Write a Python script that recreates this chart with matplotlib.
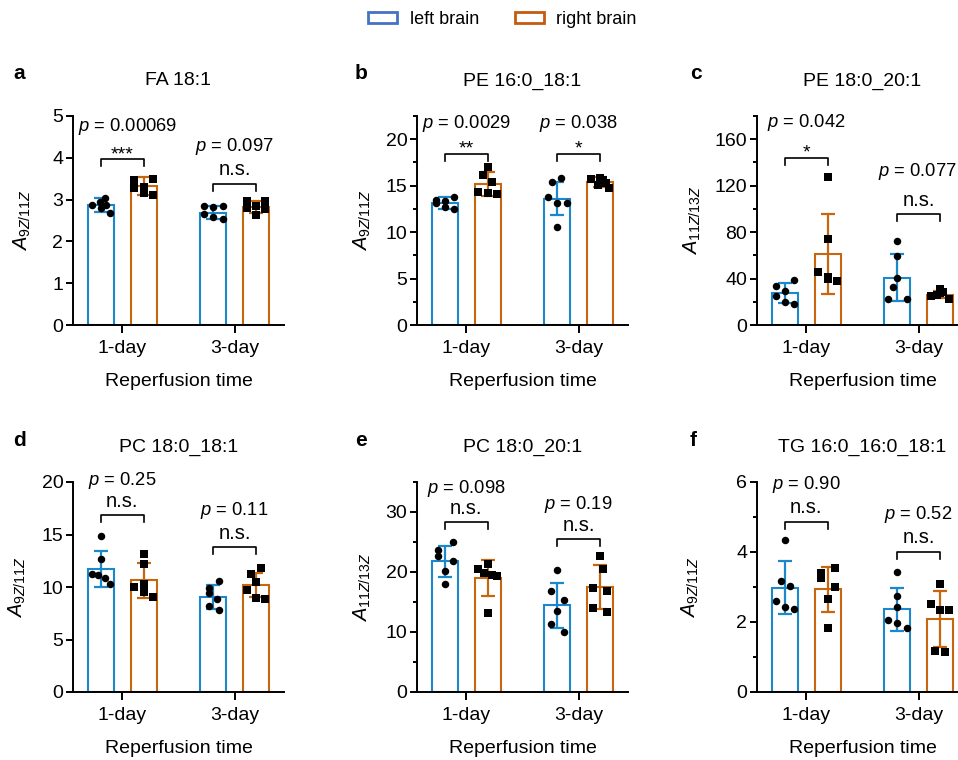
import numpy as np
import matplotlib
matplotlib.use('Agg')
import matplotlib.pyplot as plt
from matplotlib.patches import Patch
from matplotlib.ticker import MultipleLocator, NullLocator

plt.rcParams['font.family'] = ['Liberation Sans', 'DejaVu Sans']
plt.rcParams['mathtext.fontset'] = 'custom'
plt.rcParams['mathtext.rm'] = 'Liberation Sans'
plt.rcParams['mathtext.it'] = 'Liberation Sans:italic'
plt.rcParams['mathtext.bf'] = 'Liberation Sans:bold'

# ---------------- data ----------------
groups = ['1-day', '3-day']
series = ['left brain', 'right brain']
titles = ['FA 18:1', 'PE 16:0_18:1', 'PE 18:0_20:1',
          'PC 18:0_18:1', 'PC 18:0_20:1', 'TG 16:0_16:0_18:1']
letters = ['a', 'b', 'c', 'd', 'e', 'f']
ylabels = [r'$A_{9Z/11Z}$', r'$A_{9Z/11Z}$', r'$A_{11Z/13Z}$',
           r'$A_{9Z/11Z}$', r'$A_{11Z/13Z}$', r'$A_{9Z/11Z}$']

# bar means and SDs per panel: [1-day, 3-day]
mean_left = [[2.87, 2.69], [13.15, 13.6], [27.4, 40.9],
             [11.72, 9.08], [21.8, 14.5], [2.98, 2.36]]
sd_left = [[0.17, 0.15], [0.67, 1.8], [8.5, 20.2],
           [1.73, 1.15], [2.57, 3.75], [0.75, 0.62]]
mean_right = [[3.32, 2.83], [15.14, 15.39], [61.0, 26.0],
              [10.62, 10.2], [19.05, 17.5], [2.93, 2.09]]
sd_right = [[0.21, 0.145], [1.3, 0.54], [34.7, 2.9],
            [1.67, 1.15], [3.0, 3.6], [0.63, 0.79]]

# individual animals
pts_left_1d = [[2.88, 2.95, 3.05, 2.87, 2.68, 2.80],
               [13.5, 13.75, 13.35, 13.1, 12.65, 12.5],
               [33.7, 38.9, 29.0, 25.4, 19.8, 18.2],
               [14.9, 12.7, 11.2, 11.1, 10.9, 10.3],
               [25.0, 23.7, 22.6, 21.8, 20.1, 18.0],
               [4.33, 3.18, 3.04, 2.60, 2.42, 2.37]]
pts_right_1d = [[3.48, 3.50, 3.28, 3.30, 3.15, 3.12],
                [17.05, 16.2, 15.4, 14.35, 14.2, 14.15],
                [127.4, 74.1, 45.3, 41.0, 38.0, 40.0],
                [13.15, 12.2, 10.0, 10.3, 9.5, 9.08],
                [20.56, 21.4, 19.8, 19.55, 19.4, 13.1],
                [3.55, 3.39, 3.25, 3.00, 2.66, 1.84]]
pts_left_3d = [[2.84, 2.83, 2.84, 2.65, 2.59, 2.53],
               [15.8, 15.4, 13.8, 13.1, 13.1, 10.6],
               [72.6, 59.1, 40.9, 32.3, 22.2, 22.2],
               [10.6, 9.9, 9.4, 8.9, 8.15, 7.85],
               [20.3, 16.87, 15.36, 13.5, 11.3, 10.05],
               [3.42, 2.74, 2.44, 2.05, 1.96, 1.84]]
pts_right_3d = [[2.97, 2.96, 2.85, 2.80, 2.62, 2.78],
                [15.7, 15.85, 15.6, 15.3, 15.1, 14.8],
                [25.4, 30.8, 27.5, 22.5, 28.0, 26.0],
                [11.85, 11.25, 10.5, 9.75, 9.0, 8.82],
                [22.6, 20.5, 17.3, 16.9, 14.0, 13.4],
                [3.08, 2.51, 2.34, 2.34, 1.17, 1.13]]

# horizontal scatter of points (fraction of spread)
jit_left_1d = [[-1, -0.1, 0.4, 0.5, 1, 0], [-1, 1, 0, -1, 0, 1],
               [-1, 1, 0, -1, 0, 1], [0, 0, -1, -0.3, 0.4, 1],
               [0.8, -0.8, -0.8, 0.8, 0, 0], [0, -0.4, 0.5, -1, 0, 1]]
jit_right_1d = [[-1, 1, -1, 0, 0, 1], [0, -0.5, 0.5, -1, 0, 1],
                [0, 0, -1, 0, 1, 0], [0, 0, -1, 0, 0, 1],
                [-1, 0, -0.4, 0.5, 1, 0], [0.8, -0.7, -0.7, 0.8, 0, 0]]
jit_left_3d = [[-1, 0, 1, -1, 0, 1], [0.35, -0.6, -1, 0, 1, 0],
               [0, 0, 0, -0.5, -1, 1], [0.6, -0.5, -0.5, 0.4, -0.5, 0.6],
               [0, -0.7, 0.7, 0, -0.7, 0.7], [0, 0, 0, -1, 0, 1]]
jit_right_3d = [[-1, 1, 0, -1, 0, 1], [-1, 0, 0.3, 0.7, -0.2, 1],
                [-1, 0, 0, 1, 0.3, -0.3], [0.5, -0.5, 0, -1, 0, 1],
                [0, 0.3, -0.7, 0.8, -0.7, 0.8], [0, -1, 0, 1, -0.5, 0.5]]

# statistics annotations
p_1d = ['0.00069', '0.0029', '0.042', '0.25', '0.098', '0.90']
p_3d = ['0.097', '0.038', '0.077', '0.11', '0.19', '0.52']
sig_1d = ['***', '**', '*', 'n.s.', 'n.s.', 'n.s.']
sig_3d = ['n.s.', '*', 'n.s.', 'n.s.', 'n.s.', 'n.s.']
bracket_y_1d = [3.96, 18.38, 144.1, 16.82, 28.32, 4.87]
bracket_y_3d = [3.38, 18.38, 95.7, 13.79, 25.53, 4.01]
p_y_1d = [4.63, 21.26, 170.9, 19.75, 33.13, 5.81]
p_y_3d = [4.16, 21.26, 128.3, 16.82, 30.45, 4.94]
p_dx_1d = [0.05, 0.0, 0.0, 0.0, 0.0, 0.0]
p_dx_3d = [0.0, 0.0, -0.01, 0.0, 0.0, 0.0]

# axis ranges
ymax = [5, 22.5, 180, 20, 35, 6]
ymajor = [1, 5, 40, 5, 10, 2]
yminor = [None, 2.5, 20, None, 5, 1]

# ---------------- style ----------------
BLUE = '#1A88C9'
ORANGE = '#C8660F'
LEG_BLUE = '#4472C4'
LEG_ORANGE = '#C55A11'

W, H = 958, 760
fig = plt.figure(figsize=(W / 100, H / 100), dpi=100)

ax_left_px = [73, 417, 757]
ax_w_px = 211
row_bottom_px = [325, 692]
row_top_px = [116, 482]
ylabel_x = [-0.19, -0.209, -0.256, -0.213, -0.209, -0.265]
letter_x_px = [13, 355, 690]
letter_base_px = [79, 446]

off = 0.19
bw = 0.23
jit_scale = 0.083

for i in range(6):
    row, col = divmod(i, 3)
    hpx = row_bottom_px[row] - row_top_px[row]
    ax = fig.add_axes([ax_left_px[col] / W, (H - row_bottom_px[row]) / H,
                       ax_w_px / W, hpx / H])
    x = np.arange(len(groups))
    ax.bar(x - off, mean_left[i], width=bw, facecolor='white',
           edgecolor=BLUE, linewidth=1.5, zorder=2)
    ax.bar(x + off, mean_right[i], width=bw, facecolor='white',
           edgecolor=ORANGE, linewidth=1.5, zorder=2)
    ax.errorbar(x - off, mean_left[i], yerr=sd_left[i], fmt='none',
                ecolor=BLUE, elinewidth=1.6, capsize=4.8, capthick=1.6, zorder=3)
    ax.errorbar(x + off, mean_right[i], yerr=sd_right[i], fmt='none',
                ecolor=ORANGE, elinewidth=1.6, capsize=4.8, capthick=1.6, zorder=3)

    for g, (pl, jl, pr, jr) in enumerate([
            (pts_left_1d[i], jit_left_1d[i], pts_right_1d[i], jit_right_1d[i]),
            (pts_left_3d[i], jit_left_3d[i], pts_right_3d[i], jit_right_3d[i])]):
        ax.plot(g - off + np.array(jl) * jit_scale, pl, 'o', color='black',
                markersize=5.4, markeredgewidth=0, zorder=4, clip_on=False)
        ax.plot(g + off + np.array(jr) * jit_scale, pr, 's', color='black',
                markersize=5.6, markeredgewidth=0, zorder=4, clip_on=False)

    ax.set_xlim(-0.44, 1.44)
    ax.set_ylim(0, ymax[i])
    unit = ymax[i] / hpx  # data units per pixel
    leg = 7 * unit

    for g, (by, py, sig, pv, pdx) in enumerate([
            (bracket_y_1d[i], p_y_1d[i], sig_1d[i], p_1d[i], p_dx_1d[i]),
            (bracket_y_3d[i], p_y_3d[i], sig_3d[i], p_3d[i], p_dx_3d[i])]):
        ax.plot([g - off, g - off, g + off, g + off], [by - leg, by, by, by - leg],
                color='black', linewidth=1.2, zorder=5, clip_on=False)
        if sig == 'n.s.':
            ax.text(g, by + 8.3 * unit, sig, ha='center', va='baseline',
                    fontsize=14.5, clip_on=False)
        else:
            ax.text(g, by + 0.5 * unit, sig, ha='center', va='baseline',
                    fontsize=14, clip_on=False)
        ax.text(g + pdx, py, r'$p$ = ' + pv, ha='center', va='baseline',
                fontsize=13.2, clip_on=False)

    ax.set_xticks(x)
    ax.set_xticklabels(groups)
    ax.yaxis.set_major_locator(MultipleLocator(ymajor[i]))
    if yminor[i] is not None:
        ax.yaxis.set_minor_locator(MultipleLocator(yminor[i]))
    else:
        ax.yaxis.set_minor_locator(NullLocator())
    ax.xaxis.set_minor_locator(NullLocator())

    for s in ['top', 'right']:
        ax.spines[s].set_visible(False)
    for s in ['left', 'bottom']:
        ax.spines[s].set_linewidth(1.4)

    ax.tick_params(axis='y', which='major', length=5, width=1.4,
                   labelsize=14, pad=2)
    ax.tick_params(axis='y', which='minor', length=3, width=1.4)
    ax.tick_params(axis='x', which='major', length=5.5, width=1.4,
                   labelsize=14, pad=5)

    ax.set_title(titles[i], fontsize=14, pad=22)
    ax.set_xlabel('Reperfusion time', fontsize=14, labelpad=12)
    ax.set_ylabel(ylabels[i], fontsize=14.5)
    ax.yaxis.set_label_coords(ylabel_x[i], 0.5)

    fig.text(letter_x_px[col] / W, 1 - letter_base_px[row] / H, letters[i],
             fontsize=15, fontweight='bold', ha='left', va='baseline')

handles = [Patch(facecolor='white', edgecolor=LEG_BLUE, linewidth=2, label=series[0]),
           Patch(facecolor='white', edgecolor=LEG_ORANGE, linewidth=2, label=series[1])]
fig.legend(handles=handles, loc='center', bbox_to_anchor=(0.5245, 0.974),
           ncol=2, frameon=False, fontsize=13, handlelength=1.6,
           handleheight=0.55, handletextpad=0.7, columnspacing=2.0)

fig.savefig('out.png', dpi=100)
